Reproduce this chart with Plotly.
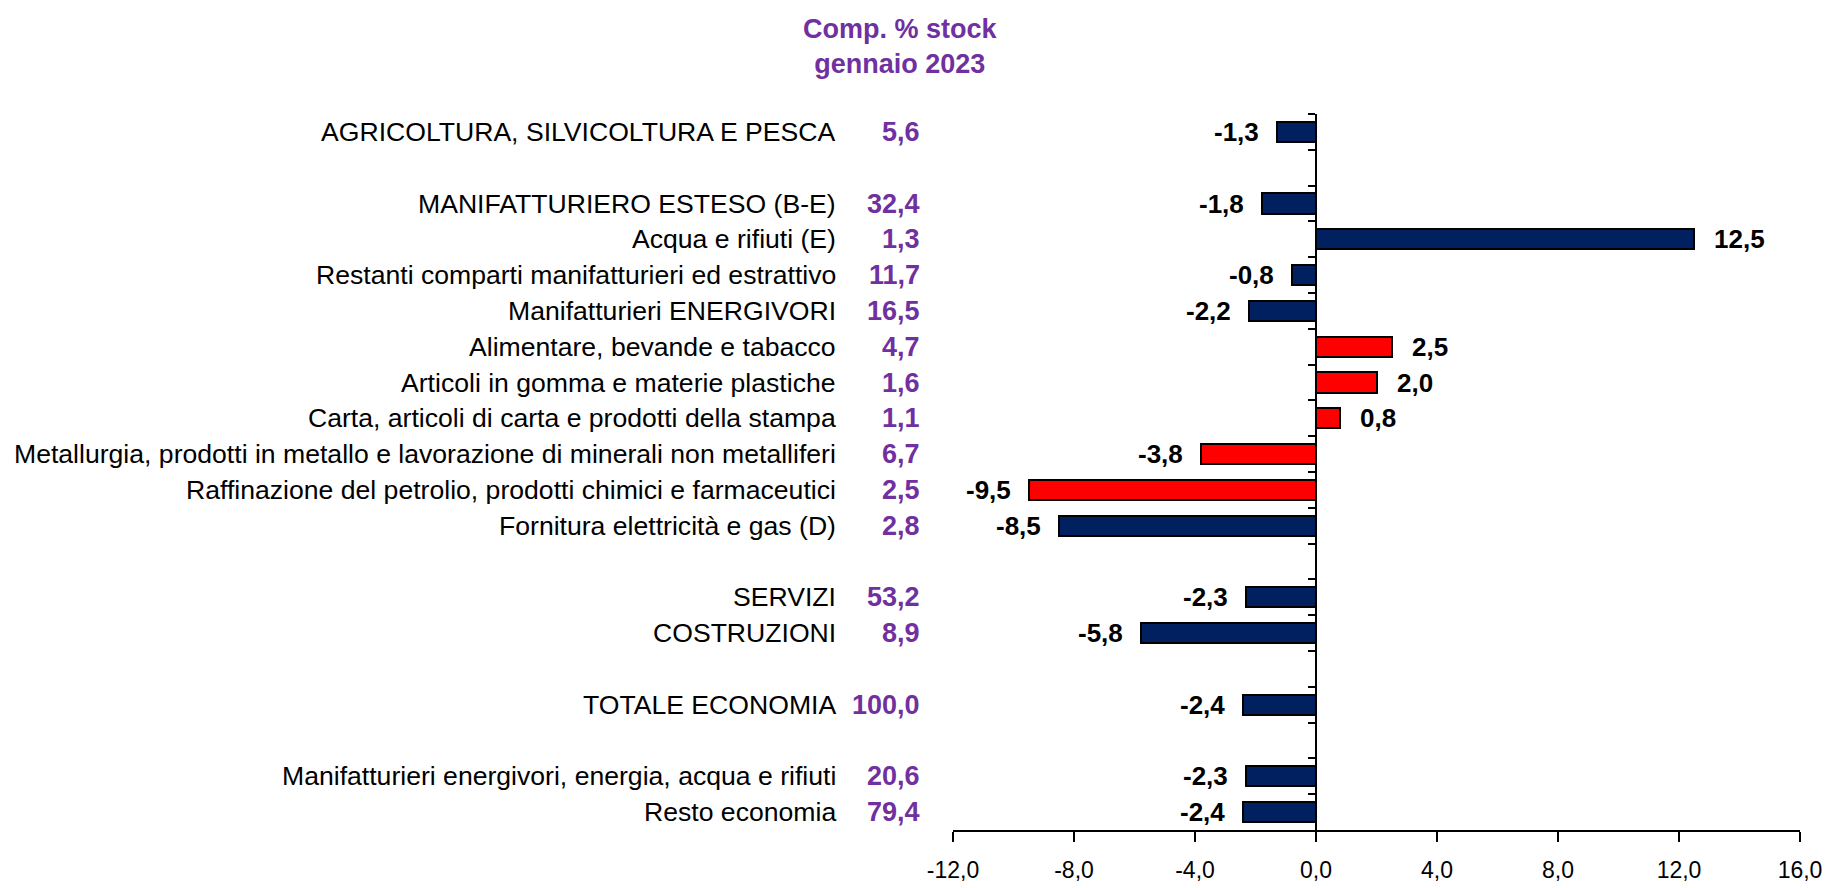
import plotly.graph_objects as go

# ---------------- data ----------------
categories = [
    "AGRICOLTURA, SILVICOLTURA E PESCA",
    "MANIFATTURIERO ESTESO (B-E)",
    "Acqua e rifiuti (E)",
    "Restanti comparti manifatturieri ed estrattivo",
    "Manifatturieri ENERGIVORI",
    "Alimentare, bevande e tabacco",
    "Articoli in gomma e materie plastiche",
    "Carta, articoli di carta e prodotti della stampa",
    "Metallurgia, prodotti in metallo e lavorazione di minerali non metalliferi",
    "Raffinazione del petrolio, prodotti chimici e farmaceutici",
    "Fornitura elettricità e gas (D)",
    "SERVIZI",
    "COSTRUZIONI",
    "TOTALE ECONOMIA",
    "Manifatturieri energivori, energia, acqua e rifiuti",
    "Resto economia",
]
changes = [-1.3, -1.8, 12.5, -0.8, -2.2, 2.5, 2.0, 0.8, -3.8, -9.5, -8.5,
           -2.3, -5.8, -2.4, -2.3, -2.4]
shares = [5.6, 32.4, 1.3, 11.7, 16.5, 4.7, 1.6, 1.1, 6.7, 2.5, 2.8,
          53.2, 8.9, 100.0, 20.6, 79.4]
groups = [0, 1, 1, 1, 1, 1, 1, 1, 1, 1, 1, 2, 2, 3, 4, 4]
energivori_sub = [False, False, False, False, False, True, True, True, True, True,
                  False, False, False, False, False, False]
x_ticks = [-12, -8, -4, 0, 4, 8, 12, 16]
header = "Comp. % stock<br>gennaio 2023"

# ---------------- styling ----------------
W, H = 1831, 888
ML, MR, MT, MB = 953, 31, 114, 58
NAVY = "#002060"
RED = "#FF0000"
PURPLE = "#7030A0"
FONT = "Liberation Sans Narrow, Arial Narrow, Liberation Sans, Arial, sans-serif"


def fmt(v):
    return f"{v:.1f}".replace(".", ",")


def px_to_paper_x(p):
    return (p - ML) / (W - ML - MR)


def px_to_paper_y(p):
    return (H - MB - p) / (H - MT - MB)


slots = [i + g for i, g in enumerate(groups)]
n_slots = max(slots) + 1
colors = [RED if s else NAVY for s in energivori_sub]

fig = go.Figure()
fig.add_trace(go.Bar(
    x=changes, y=slots, orientation="h", width=0.56,
    marker=dict(color=colors, line=dict(color="black", width=2)),
    hoverinfo="skip",
))

annotations = []
for cat, val, sh, s in zip(categories, changes, shares, slots):
    annotations.append(dict(
        xref="paper", yref="y", x=px_to_paper_x(838), y=s, text=cat,
        showarrow=False, xanchor="right", yanchor="middle",
        font=dict(family=FONT, size=26.6, color="black")))
    annotations.append(dict(
        xref="paper", yref="y", x=px_to_paper_x(922), y=s, text=f"<b>{fmt(sh)}</b>",
        showarrow=False, xanchor="right", yanchor="middle",
        font=dict(family=FONT, size=27, color=PURPLE)))
    annotations.append(dict(
        xref="x", yref="y", x=val, y=s, text=f"<b>{fmt(val)}</b>",
        showarrow=False, xanchor="right" if val < 0 else "left", yanchor="middle",
        xshift=-16 if val < 0 else 18,
        font=dict(family=FONT, size=26, color="black")))

annotations.append(dict(
    xref="paper", yref="paper", x=px_to_paper_x(900), y=px_to_paper_y(46),
    text=f"<b>{header}</b>", showarrow=False, xanchor="center", yanchor="middle",
    font=dict(family=FONT, size=27, color=PURPLE)))

fig.update_layout(
    width=W, height=H,
    margin=dict(l=ML, r=MR, t=MT, b=MB, pad=0, autoexpand=False),
    paper_bgcolor="white", plot_bgcolor="white",
    showlegend=False, bargap=0,
    annotations=annotations,
    xaxis=dict(
        range=[x_ticks[0], x_ticks[-1]], tickvals=x_ticks,
        ticktext=[fmt(t) for t in x_ticks],
        ticks="outside", ticklen=10, tickwidth=2, tickcolor="black",
        showline=True, linewidth=2, linecolor="black",
        showgrid=False, zeroline=False, automargin=False,
        ticklabelstandoff=8,
        tickfont=dict(family=FONT, size=23, color="black"),
    ),
    yaxis=dict(
        range=[n_slots - 0.5, -0.5],
        anchor="free", position=(0 - x_ticks[0]) / (x_ticks[-1] - x_ticks[0]),
        tickvals=[k - 0.5 for k in range(n_slots)],
        ticks="outside", ticklen=7, tickwidth=2, tickcolor="black",
        showticklabels=False, automargin=False,
        showline=True, linewidth=2, linecolor="black",
        showgrid=False, zeroline=False,
    ),
)

fig.write_html(
    "out.html",
    config={"displayModeBar": False},
    post_script="document.body.style.margin='0';document.body.style.overflow='hidden';",
)
